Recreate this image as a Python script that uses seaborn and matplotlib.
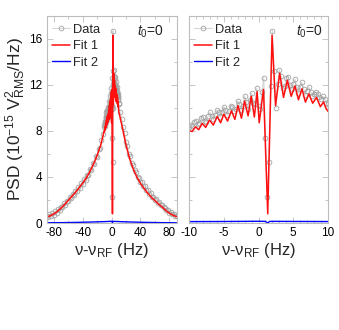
import numpy as np
import pandas as pd
import matplotlib
matplotlib.use("Agg")
import matplotlib.pyplot as plt
import seaborn as sns
from matplotlib.ticker import MultipleLocator, NullFormatter

# ---------------- data ----------------
# measured PSD (gray circles), wide left wing
data_x_left = np.arange(-90, -11, 2)
data_y_left = [0.6, 0.5, 0.75, 0.6, 0.85, 0.7, 1.0, 0.9, 1.2, 1.1,
               1.4, 1.35, 1.7, 1.6, 1.95, 1.9, 2.25, 2.15, 2.55, 2.45,
               2.8, 2.75, 3.15, 3.05, 3.45, 3.4, 3.85, 3.75, 4.2, 4.15,
               4.7, 4.6, 5.2, 5.15, 5.8, 5.75, 6.45, 6.5, 7.2, 7.7]
# measured PSD, central region (-10..10 Hz)
data_x_mid = np.arange(-10, 10.001, 0.25)
data_y_mid = [8.3, 8.5, 8.4, 8.8, 8.9, 8.6, 8.7, 9.1, 9.2, 8.9,
              8.8, 9.3, 9.6, 9.3, 9.0, 9.4, 9.8, 9.6, 9.2, 9.6,
              10.1, 9.8, 9.4, 9.7, 10.2, 10.1, 9.7, 9.9, 10.6, 10.3,
              9.8, 10.2, 11.0, 10.5, 9.9, 10.7, 11.3, 10.4, 10.3, 11.7,
              10.2, 9.9, 11.4, 12.6, 7.4, 2.3, 5.3, 11.9, 16.7, 13.2,
              10.0, 12.1, 13.3, 12.8, 11.7, 11.9, 12.6, 12.7, 12.0, 11.6,
              12.1, 12.5, 11.8, 11.3, 11.8, 12.2, 11.6, 11.1, 11.5, 11.8,
              11.4, 11.0, 11.2, 11.4, 11.2, 10.9, 10.8, 11.0, 10.8, 10.4,
              10.3]
# measured PSD, wide right wing
data_x_right = np.arange(12, 91, 2)
data_y_right = [9.6, 9.0, 8.3, 7.8, 7.0, 6.7, 6.0, 5.8, 5.2, 5.0,
                4.6, 4.45, 4.0, 3.95, 3.6, 3.55, 3.2, 3.2, 2.85, 2.9,
                2.55, 2.6, 2.25, 2.3, 2.0, 2.05, 1.75, 1.8, 1.55, 1.55,
                1.35, 1.3, 1.1, 1.1, 0.9, 0.95, 0.75, 0.8, 0.6, 0.65]

# Fit 1 (red)
fit1_x = [-90, -85, -80, -75, -70, -65, -60, -55, -50, -45, -40, -35, -30, -25, -20, -15,
          -10.0, -9.55, -9.05, -8.6, -8.1, -7.6, -7.05, -6.5, -5.95, -5.45, -5.0, -4.45,
          -3.9, -3.4, -2.95, -2.45, -2.0, -1.5, -1.05, -0.6, -0.2, 0.1, 0.72, 1.33, 1.95,
          2.45, 3.05, 3.6, 4.15, 4.7, 5.25, 5.75, 6.25, 6.75, 7.25, 7.8, 8.35, 8.9, 9.35,
          9.75, 10.0,
          15, 20, 25, 30, 35, 40, 45, 50, 55, 60, 65, 70, 75, 80, 85, 90]
fit1_y = [0.5, 0.62, 0.78, 1.0, 1.28, 1.6, 1.95, 2.3, 2.65, 3.05, 3.45, 3.9, 4.45, 5.1, 5.85, 6.75,
          8.0, 7.95, 8.35, 8.1, 8.65, 8.3, 8.95, 8.5, 9.25, 8.7, 9.45, 8.85,
          9.75, 9.0, 10.2, 9.1, 10.6, 9.3, 11.0, 9.2, 11.4, 8.7, 11.6, 0.8, 16.3,
          10.2, 13.0, 10.9, 12.4, 11.0, 11.9, 10.7, 11.65, 10.5, 11.2, 10.4, 10.9, 10.1, 10.5,
          9.9, 9.7,
          8.3, 6.8, 5.6, 4.7, 4.0, 3.45, 3.0, 2.6, 2.25, 1.95, 1.65, 1.4, 1.1, 0.85, 0.68, 0.55]

# Fit 2 (blue)
fit2_x = [-90, -70, -50, -30, -15, -5, 0, 1.0, 1.33, 1.6, 3, 8, 15, 30, 50, 70, 90]
fit2_y = [0.02, 0.03, 0.05, 0.08, 0.11, 0.13, 0.15, 0.14, 0.0, 0.14, 0.14, 0.13, 0.11, 0.08,
          0.05, 0.03, 0.02]

left_xticks = [-80, -40, 0, 40, 80]
right_xticks = [-10, -5, 0, 5, 10]
yticks = [0, 4, 8, 12, 16]

# ---------------- styling ----------------
sns.set_style("ticks")
plt.rcParams["font.family"] = ["Liberation Sans", "DejaVu Sans"]
plt.rcParams["mathtext.fontset"] = "custom"
plt.rcParams["mathtext.rm"] = "Liberation Sans"
plt.rcParams["mathtext.it"] = "Liberation Sans:italic"
plt.rcParams["mathtext.bf"] = "Liberation Sans:bold"

spine_col = "#bdbdbd"
data_df = pd.DataFrame({
    "x": np.concatenate([data_x_left, data_x_mid, data_x_right]),
    "y": np.concatenate([data_y_left, data_y_mid, data_y_right]),
})
fit1_df = pd.DataFrame({"x": fit1_x, "y": fit1_y})
fit2_df = pd.DataFrame({"x": fit2_x, "y": fit2_y})

fig = plt.figure(figsize=(3.39, 3.30), dpi=100)
axL = fig.add_axes([46.5 / 339, 1 - 223 / 330, 130 / 339, 207.3 / 330])
axR = fig.add_axes([189 / 339, 1 - 223 / 330, 139 / 339, 207.3 / 330])


def draw(ax, xlim):
    sns.lineplot(data=data_df, x="x", y="y", ax=ax, sort=False, estimator=None,
                 color="#d6d6d6", lw=0.8, marker="o", markersize=3.4,
                 markerfacecolor="none", markeredgecolor="#a2a2a2",
                 markeredgewidth=0.6, label="Data")
    sns.lineplot(data=fit1_df, x="x", y="y", ax=ax, sort=False, estimator=None,
                 color="#ff1010", lw=1.1, label="Fit 1",
                 solid_joinstyle="round")
    sns.lineplot(data=fit2_df, x="x", y="y", ax=ax, sort=False, estimator=None,
                 color="#0000ff", lw=1.0, label="Fit 2")
    ax.set_xlim(*xlim)
    ax.set_ylim(0, 18)
    for s in ax.spines.values():
        s.set_visible(True)
        s.set_color(spine_col)
        s.set_linewidth(0.8)
    ax.tick_params(which="both", direction="in", top=True, right=True,
                   color=spine_col, labelsize=8.5, pad=3, labelcolor="black")
    ax.tick_params(which="major", length=4, width=0.6)
    ax.tick_params(which="minor", length=2.5, width=0.6)
    ax.set_xlabel(r"ν-ν$_{\mathrm{RF}}$ (Hz)", fontsize=12, labelpad=1)
    ax.legend(loc="upper left", bbox_to_anchor=(0.0, 0.985), frameon=False,
              fontsize=9.3, handlelength=1.4, handletextpad=0.25,
              labelspacing=0.34, borderpad=0.2, borderaxespad=0.2)


draw(axL, (-90, 90))
axL.set_xticks(left_xticks)
axL.xaxis.set_minor_locator(MultipleLocator(20))
axL.set_yticks(yticks)
axL.yaxis.set_minor_locator(MultipleLocator(2))
axL.set_xticklabels([str(v) for v in left_xticks])
axL.set_ylabel(r"PSD (10$^{-15}$ V$^{2}_{\mathrm{RMS}}$/Hz)", fontsize=12.5, labelpad=1)
axL.text(0.905, 0.905, r"$t_0$=0", transform=axL.transAxes, ha="right",
         va="baseline", fontsize=10)

draw(axR, (-10, 10))
axR.set_xticks(right_xticks)
axR.xaxis.set_minor_locator(MultipleLocator(1))
axR.set_yticks(yticks)
axR.yaxis.set_minor_locator(MultipleLocator(2))
axR.set_xticklabels([str(v) for v in right_xticks])
axR.yaxis.set_major_formatter(NullFormatter())
axR.set_ylabel("")
axR.text(0.965, 0.905, r"$t_0$=0", transform=axR.transAxes, ha="right",
         va="baseline", fontsize=10)

fig.savefig("out.png", dpi=100)
